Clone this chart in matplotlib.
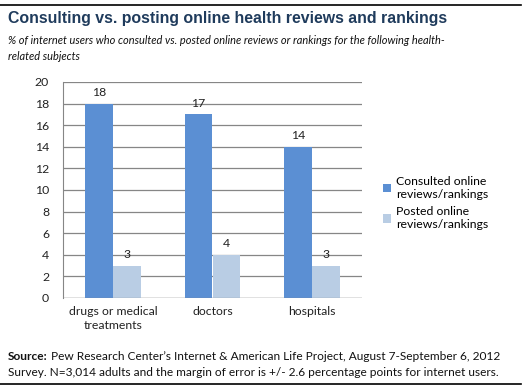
import matplotlib
matplotlib.use("Agg")
from matplotlib import pyplot as plt
from matplotlib.lines import Line2D
import numpy as np

# datos
categories = ["drugs or medical\ntreatments", "doctors", "hospitals"]
consulted = [18, 17, 14]
posted = [3, 4, 3]
series_names = ["Consulted online\nreviews/rankings", "Posted online\nreviews/rankings"]
yticks = list(range(0, 21, 2))

plt.rcParams['font.family'] = ['Lato', 'DejaVu Sans']

W, H = 524, 391
fig = plt.figure(figsize=(W / 100, H / 100), dpi=100)

def fx(px):
    return px / W

def fy(py):
    return 1 - py / H

# area del grafico
ax = fig.add_axes([fx(63), fy(298), fx(362) - fx(63), fy(82) - fy(298)])
x = np.arange(len(categories))
bw = 0.28
b1 = ax.bar(x - bw / 2, consulted, bw, color="#5B8FD3", zorder=3, label=series_names[0])
b2 = ax.bar(x + bw / 2, posted, bw, color="#B9CDE4", zorder=3, label=series_names[1])
for bars in (b1, b2):
    for r in bars:
        ax.text(r.get_x() + r.get_width() / 2, r.get_height() + 0.5, str(int(r.get_height())),
                ha="center", va="bottom", fontsize=8.8, color="#222222", zorder=4)

ax.set_xlim(-0.5, len(categories) - 0.5)
ax.set_ylim(0, 20)
ax.set_yticks(yticks)
ax.set_xticks(x)
ax.set_xticklabels(categories, fontsize=8.8, color="#222222", linespacing=1.3)
ax.tick_params(axis="y", labelsize=8.8, colors="#222222", length=0, pad=10)
ax.tick_params(axis="x", length=0, pad=6)
ax.grid(axis="y", color="#868686", linewidth=0.9, zorder=0)
for s in ["top", "right", "bottom"]:
    ax.spines[s].set_visible(False)
ax.spines["left"].set_color("#868686")
ax.axhline(0, color="#868686", linewidth=0.9, zorder=5)

leg = fig.legend(handles=[b1, b2], loc="upper left", bbox_to_anchor=(fx(378), fy(171)),
                 frameon=False, fontsize=8.8, handlelength=0.7, handleheight=0.7,
                 handletextpad=0.4, labelspacing=0.55, borderaxespad=0)

# titulos
fig.text(fx(8), fy(19), "Consulting vs. posting online health reviews and rankings",
         fontsize=11.4, fontweight="bold", color="#1F3B5C", va="center",
         family=["Liberation Sans", "DejaVu Sans"])
fig.text(fx(8), fy(40), "% of internet users who consulted vs. posted online reviews or rankings for the following health-",
         fontsize=7.9, style="italic", color="#111111", va="center")
fig.text(fx(8), fy(56), "related subjects", fontsize=7.9, style="italic", color="#111111", va="center")

# fuente
src = fig.text(fx(8), fy(356), "Source:", fontsize=8.6, fontweight="bold", color="#111111", va="center")
fig.canvas.draw()
bb = src.get_window_extent(fig.canvas.get_renderer())
fig.text(bb.x1 / W + fx(3), fy(356),
         "Pew Research Center’s Internet & American Life Project, August 7-September 6, 2012",
         fontsize=8.6, color="#111111", va="center")
fig.text(fx(8), fy(372), "Survey. N=3,014 adults and the margin of error is +/- 2.6 percentage points for internet users.",
         fontsize=8.6, color="#111111", va="center")

# lineas de borde
fig.add_artist(Line2D([0, fx(521)], [fy(5), fy(5)], color="black", linewidth=1.2))
fig.add_artist(Line2D([0, fx(521)], [fy(384), fy(384)], color="black", linewidth=1.2))

fig.savefig("out.png", dpi=100)
